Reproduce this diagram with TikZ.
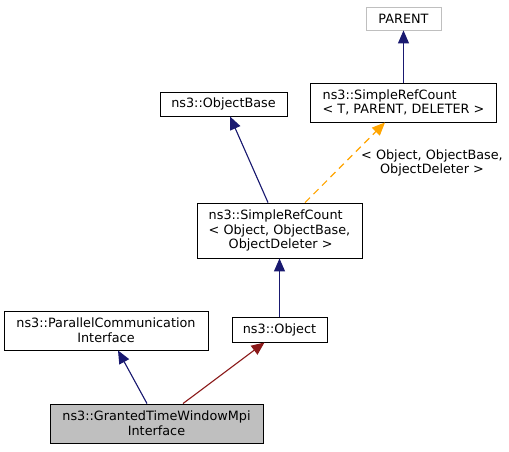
\documentclass[tikz,border=0pt]{standalone}
\usepackage{fontspec}
\setmainfont{DejaVu Sans}
\usetikzlibrary{arrows.meta}
\definecolor{navyedge}{HTML}{191970}
\definecolor{rededge}{HTML}{8B1A1A}
\definecolor{orangeedge}{HTML}{FFA500}
\definecolor{grayfill}{HTML}{BFBFBF}
\definecolor{graybd}{HTML}{BFBFBF}
\begin{document}
\begin{tikzpicture}[x=1pt,y=-1pt,
  cls/.style={draw=black, line width=0.9pt, rectangle, inner sep=0pt, align=center,
    font=\fontsize{12.8}{14.7}\selectfont},
  inh/.style={line width=1.1pt, -{Triangle[length=13pt,width=11pt]}},
  pub/.style={inh, draw=navyedge, fill=navyedge},
  priv/.style={inh, draw=rededge, fill=rededge},
  tmpl/.style={line width=1.1pt, draw=orangeedge, dash pattern=on 7pt off 5pt,
    -{Triangle[length=13pt,width=11pt,fill=orangeedge]}},
  lbl/.style={align=center, inner sep=0pt, font=\fontsize{12.8}{14.7}\selectfont}]
\useasboundingbox[fill=white] (0,0) rectangle (509,451);

\node[cls, draw=graybd, minimum width=75pt, minimum height=23pt] (parent) at (403.5,18.5) {PARENT};
\node[cls, align=left, minimum width=186pt, minimum height=39pt] (srcT) at (403.5,102.5) {ns3::SimpleRefCount\\< T, PARENT, DELETER >};
\node[cls, minimum width=127pt, minimum height=24pt] (obase) at (223.5,104) {ns3::ObjectBase};
\node[cls, align=left, minimum width=165pt, minimum height=55pt] (srcO) at (279.5,230.5) {ns3::SimpleRefCount\\< Object, ObjectBase,\\\hspace*{20pt}ObjectDeleter >};
\node[cls, minimum width=95pt, minimum height=25pt] (obj) at (279.5,329.5) {ns3::Object};
\node[cls, minimum width=204pt, minimum height=39pt] (pci) at (106,330.5) {ns3::ParallelCommunication\\Interface};
\node[cls, fill=grayfill, minimum width=213pt, minimum height=39pt] (gtw) at (156.5,423.5) {ns3::GrantedTimeWindowMpi\\Interface};

\draw[pub] (srcT.north) -- (parent.south);
\draw[pub] ([xshift=-11.5pt]srcO.north) -- ([xshift=6.5pt]obase.south);
\draw[tmpl] ([xshift=25.5pt]srcO.north) -- ([xshift=-18.5pt]srcT.south);
\draw[pub] (obj.north) -- (srcO.south);
\draw[pub] ([xshift=-9.5pt]gtw.north) -- ([xshift=12pt]pci.south);
\draw[priv] ([xshift=26.5pt]gtw.north) -- ([xshift=-15pt]obj.south);

\node[lbl] (tlabel) at (432,163) {< Object, ObjectBase,\\ObjectDeleter >};
\end{tikzpicture}
\end{document}
